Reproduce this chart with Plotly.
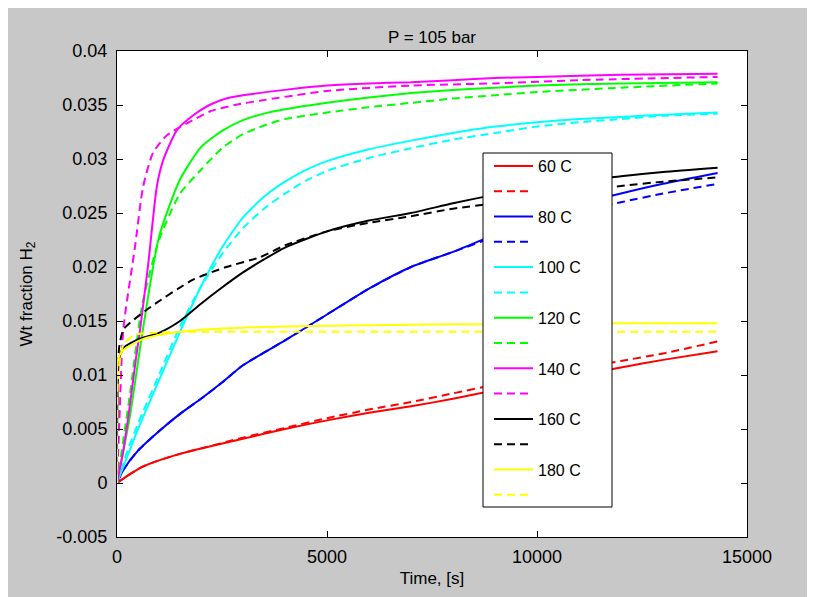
import plotly.graph_objects as go

# ---------------- data ----------------
t_red = [0, 300, 600, 1000, 1500, 2000, 3000, 4000, 5000, 6000, 7000, 8000, 9000, 10000, 11000, 12000, 13000, 14300]
red_solid = [0, 0.0008, 0.0015, 0.0021, 0.0027, 0.0032, 0.0041, 0.0050, 0.0058, 0.0065, 0.0071, 0.0078, 0.0086, 0.0093, 0.0100, 0.0107, 0.0114, 0.0122]
red_dash = [0, 0.0008, 0.0015, 0.0021, 0.0027, 0.0032, 0.0042, 0.0051, 0.0060, 0.0068, 0.0075, 0.0083, 0.0091, 0.0098, 0.0106, 0.0113, 0.0120, 0.0131]

t_blue = [0, 150, 500, 1000, 1500, 2000, 2500, 3000, 4000, 5000, 6000, 7000, 8000, 9000, 10000, 11000, 12000, 13000, 14300]
blue_solid = [0, 0.0012, 0.0030, 0.0048, 0.0064, 0.0078, 0.0093, 0.0109, 0.0132, 0.0156, 0.0180, 0.0200, 0.0214, 0.0230, 0.0245, 0.0258, 0.0268, 0.0277, 0.0287]
blue_dash = [0, 0.0012, 0.0030, 0.0048, 0.0064, 0.0078, 0.0093, 0.0109, 0.0132, 0.0156, 0.0180, 0.0200, 0.0214, 0.0228, 0.0240, 0.0251, 0.0260, 0.0268, 0.0277]

t_cyan = [0, 250, 500, 1000, 1500, 2000, 2500, 3000, 3500, 4000, 4500, 5000, 6000, 7000, 8000, 9000, 10000, 11000, 12000, 13000, 14300]
cyan_solid = [0, 0.0025, 0.0050, 0.0095, 0.0140, 0.0182, 0.0218, 0.0246, 0.0265, 0.0279, 0.0290, 0.0298, 0.0309, 0.0317, 0.0324, 0.0330, 0.0334, 0.0337, 0.0339, 0.0341, 0.0343]
cyan_dash = [0, 0.0030, 0.0055, 0.0100, 0.0145, 0.0182, 0.0212, 0.0236, 0.0254, 0.0268, 0.0280, 0.0289, 0.0301, 0.0310, 0.0318, 0.0324, 0.0330, 0.0334, 0.0337, 0.0340, 0.0342]

t_green = [0, 300, 600, 1000, 1500, 2000, 2500, 3000, 3500, 4000, 5000, 6000, 7000, 8000, 9000, 10000, 12000, 14300]
green_solid = [0, 0.0060, 0.0138, 0.0228, 0.0281, 0.0311, 0.0326, 0.0336, 0.0342, 0.0346, 0.0352, 0.0357, 0.0361, 0.0364, 0.0366, 0.0368, 0.0370, 0.0371]
green_dash = [0, 0.0080, 0.0165, 0.0225, 0.0268, 0.0290, 0.0310, 0.0323, 0.0331, 0.0337, 0.0343, 0.0348, 0.0352, 0.0356, 0.0359, 0.0362, 0.0366, 0.0370]

t_mag_solid = [0, 150, 300, 450, 550, 750, 950, 1100, 1430, 1800, 2200, 2600, 3000, 4000, 5000, 6000, 7000, 8000, 9000, 10000, 12000, 14300]
mag_solid = [0, 0.0030, 0.0070, 0.0115, 0.0142, 0.0205, 0.0275, 0.0299, 0.0327, 0.0340, 0.0350, 0.0356, 0.0359, 0.0364, 0.0368, 0.0370, 0.0371, 0.0373, 0.0375, 0.0376, 0.0378, 0.0379]
t_mag_dash = [0, 50, 150, 430, 620, 860, 1190, 1810, 2210, 2800, 3400, 5000, 7000, 9000, 11000, 14300]
mag_dash = [0, 0.0050, 0.0142, 0.0219, 0.0274, 0.0306, 0.0322, 0.0336, 0.0344, 0.0350, 0.0354, 0.0363, 0.0368, 0.0370, 0.0373, 0.0376]

t_black_solid = [0, 50, 150, 500, 1000, 1500, 2000, 2500, 3000, 3500, 4000, 5000, 6000, 7000, 8000, 9000, 10000, 11000, 12000, 13000, 14300]
black_solid = [0, 0.0115, 0.0125, 0.0133, 0.0139, 0.0150, 0.0166, 0.0181, 0.0195, 0.0207, 0.0218, 0.0233, 0.0243, 0.0250, 0.0259, 0.0267, 0.0274, 0.0280, 0.0284, 0.0288, 0.0292]
t_black_dash = [0, 50, 150, 300, 800, 1800, 2600, 3400, 4000, 5000, 6000, 7000, 8000, 9000, 10000, 11000, 12000, 13000, 14300]
black_dash = [0, 0.0125, 0.0142, 0.0148, 0.0163, 0.0188, 0.0200, 0.0209, 0.0220, 0.0233, 0.0241, 0.0247, 0.0254, 0.0259, 0.0265, 0.0270, 0.0275, 0.0279, 0.0283]

t_yellow_solid = [0, 30, 150, 300, 600, 1000, 1500, 2500, 4000, 6000, 8000, 10000, 12000, 14300]
yellow_solid = [0, 0.0115, 0.0123, 0.0127, 0.0133, 0.0137, 0.0140, 0.0143, 0.0145, 0.0146, 0.0147, 0.0147, 0.0148, 0.0148]
t_yellow_dash = [0, 30, 150, 400, 800, 2000, 5000, 8000, 11000, 14300]
yellow_dash = [0, 0.0100, 0.0128, 0.0137, 0.0139, 0.0140, 0.0140, 0.0140, 0.0140, 0.0140]

labels = ["60 C", "80 C", "100 C", "120 C", "140 C", "160 C", "180 C"]
colors = ["#ff0000", "#0000ff", "#00ffff", "#00ff00", "#ff00ff", "#000000", "#ffff00"]

x_ticks = [0, 5000, 10000, 15000]
x_ticktext = ["0", "5000", "10000", "15000"]
y_ticks = [-0.005, 0, 0.005, 0.01, 0.015, 0.02, 0.025, 0.03, 0.035, 0.04]
y_ticktext = ["-0.005", "0", "0.005", "0.01", "0.015", "0.02", "0.025", "0.03", "0.035", "0.04"]

series = [
    (t_red, red_solid, t_red, red_dash),
    (t_blue, blue_solid, t_blue, blue_dash),
    (t_cyan, cyan_solid, t_cyan, cyan_dash),
    (t_green, green_solid, t_green, green_dash),
    (t_mag_solid, mag_solid, t_mag_dash, mag_dash),
    (t_black_solid, black_solid, t_black_dash, black_dash),
    (t_yellow_solid, yellow_solid, t_yellow_dash, yellow_dash),
]

FONT = "Liberation Sans, Arial, sans-serif"
fig = go.Figure()
for i, (ts, ys, td, yd) in enumerate(series):
    fig.add_trace(go.Scatter(x=ts, y=ys, mode="lines", name=labels[i],
                             line=dict(color=colors[i], width=2, shape="spline", smoothing=0.6),
                             legendgroup="s%d" % i))
    fig.add_trace(go.Scatter(x=td, y=yd, mode="lines", name="",
                             line=dict(color=colors[i], width=2, dash="8px,5px", shape="spline", smoothing=0.6),
                             legendgroup="d%d" % i))

# page offset of the figure inside the browser page (body margin)
OFF = 8
PL, PR, PT, PB = 117, 747, 51, 537     # plot-area edges in page pixels
W, H = 815, 597
pw, ph = PR - PL, PB - PT
L, T = PL - OFF, PT - OFF
R, B = W - L - pw, H - T - ph

def px(x):
    return (x - PL) / pw

def py(y):
    return 1 - (y - PT) / ph

axis_common = dict(showline=True, linecolor="black", linewidth=1, mirror="ticks",
                   ticks="inside", ticklen=6, tickcolor="black", showgrid=False, zeroline=False,
                   tickfont=dict(family=FONT, size=18, color="black"))

fig.update_layout(
    width=W, height=H,
    margin=dict(l=L, r=R, t=T, b=B, pad=0),
    paper_bgcolor="#c8c8c8", plot_bgcolor="white",
    font=dict(family=FONT, size=17, color="black"),
    title=dict(text="P = 105 bar", x=(PL + pw / 2 - OFF) / W, xanchor="center",
               y=1 - (37 - OFF) / H, yanchor="middle",
               font=dict(family=FONT, size=17, color="black")),
    xaxis=dict(range=[0, 15000], tickvals=x_ticks, ticktext=x_ticktext,
               title=dict(text="Time, [s]", font=dict(family=FONT, size=17), standoff=6),
               ticklabelstandoff=3, **axis_common),
    yaxis=dict(range=[-0.005, 0.04], tickvals=y_ticks, ticktext=y_ticktext,
               title=dict(text="Wt fraction H<sub>2</sub>", font=dict(family=FONT, size=17), standoff=19),
               ticklabelstandoff=5, **axis_common),
    legend=dict(x=px(489), xanchor="left", y=py(149), yanchor="top",
                bgcolor="rgba(0,0,0,0)", borderwidth=0,
                font=dict(family=FONT, size=16, color="black"),
                tracegroupgap=1.5, itemwidth=39),
    showlegend=True,
)

# legend frame (white box with black border, drawn over the curves)
fig.add_shape(type="rect", xref="paper", yref="paper", x0=px(483), x1=px(612),
              y0=py(507), y1=py(153), fillcolor="white", line=dict(color="black", width=1),
              layer="above")

fig.write_html("out.html")
